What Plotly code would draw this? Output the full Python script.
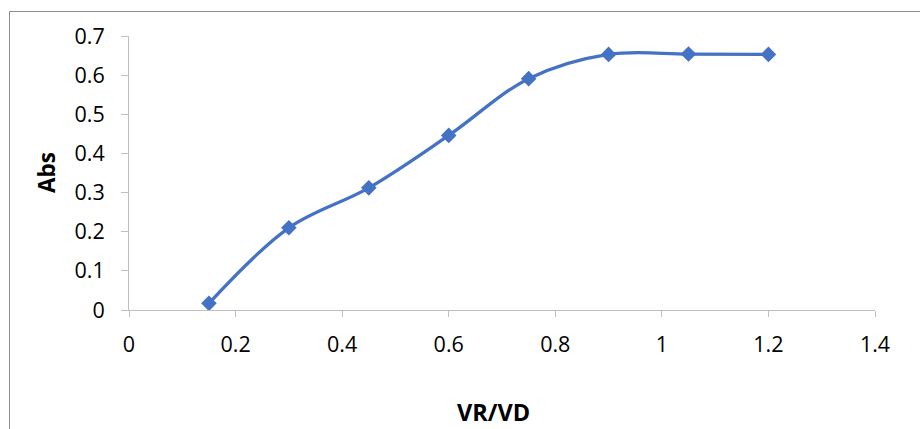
import plotly.graph_objects as go

x_vals = [0.15, 0.3, 0.45, 0.6, 0.75, 0.9, 1.05, 1.2]
abs_vals = [0.017, 0.210, 0.312, 0.446, 0.591, 0.653, 0.654, 0.653]
x_ticks = [0, 0.2, 0.4, 0.6, 0.8, 1, 1.2, 1.4]
x_tick_text = ["0", "0.2", "0.4", "0.6", "0.8", "1", "1.2", "1.4"]
y_ticks = [0, 0.1, 0.2, 0.3, 0.4, 0.5, 0.6, 0.7]
y_tick_text = ["0", "0.1", "0.2", "0.3", "0.4", "0.5", "0.6", "0.7"]

W, H = 920, 429
L, R, T, B = 129, 45, 36, 119
pw, ph = W - L - R, H - T - B

def px_to_paper_x(px):
    return (px - L) / pw

def px_to_paper_y(py):
    return (H - B - py) / ph

fig = go.Figure()
fig.add_trace(go.Scatter(
    x=x_vals, y=abs_vals, mode="lines+markers",
    line=dict(color="#4472C4", width=3.25, shape="spline", smoothing=1),
    marker=dict(symbol="diamond", size=12, color="#4472C4"),
    cliponaxis=False, showlegend=False,
))

font_family = "Open Sans"
axis_common = dict(
    showgrid=False, zeroline=False, showline=True, linecolor="#bfbfbf", linewidth=1,
    ticks="outside", tickcolor="#bfbfbf", tickwidth=1,
    tickfont=dict(family=font_family, size=21.5, color="#000000"),
    tickmode="array",
)
fig.update_xaxes(range=[0, 1.4], tickvals=x_ticks, ticktext=x_tick_text,
                 ticklen=6, ticklabelstandoff=9, **axis_common)
fig.update_yaxes(range=[0, 0.7], tickvals=y_ticks, ticktext=y_tick_text,
                 ticklen=7, ticklabelstandoff=12, **axis_common)

fig.add_shape(type="rect", xref="paper", yref="paper",
              x0=px_to_paper_x(9.5), x1=px_to_paper_x(960),
              y0=px_to_paper_y(480), y1=px_to_paper_y(11.5),
              line=dict(color="#8c8c8c", width=1), fillcolor="rgba(0,0,0,0)", layer="below")

fig.add_annotation(text="<b>VR/VD</b>", xref="paper", yref="paper",
                   x=px_to_paper_x(493), y=px_to_paper_y(412),
                   xanchor="center", yanchor="middle", showarrow=False,
                   font=dict(family=font_family, size=23.5, color="#000000"))
fig.add_annotation(text="<b>Abs</b>", xref="paper", yref="paper",
                   x=px_to_paper_x(46), y=px_to_paper_y(173), textangle=-90,
                   xanchor="center", yanchor="middle", showarrow=False,
                   font=dict(family=font_family, size=22.5, color="#000000"))

fig.update_layout(
    width=W, height=H, margin=dict(l=L, r=R, t=T, b=B, pad=0),
    paper_bgcolor="white", plot_bgcolor="white",
)
fig.write_html("out.html")
